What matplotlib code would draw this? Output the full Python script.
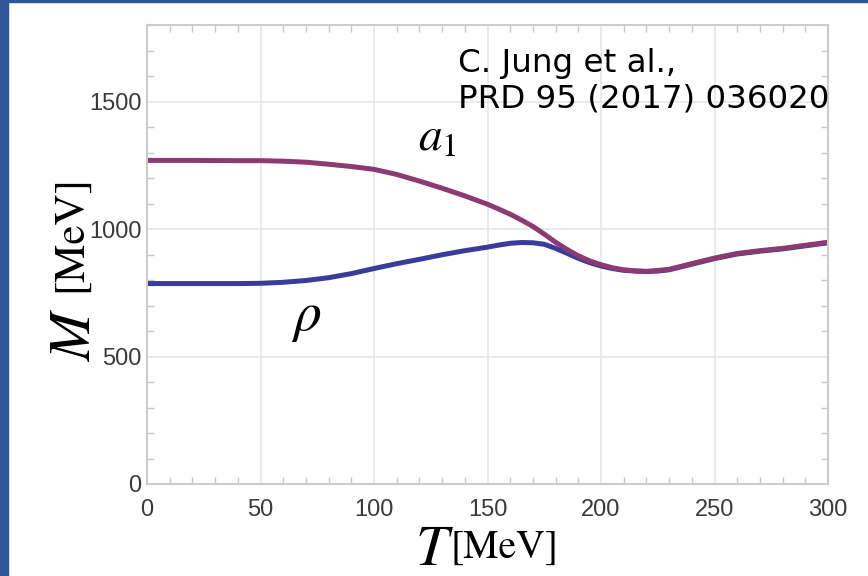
import matplotlib.pyplot as plt
from matplotlib.patches import Rectangle
from matplotlib.ticker import MultipleLocator

plt.rcParams['mathtext.fontset'] = 'stix'

# masses (MeV)
temps = [0, 20, 40, 50, 60, 70, 80, 90, 100, 110, 120, 130, 140, 150, 155, 160,
         165, 170, 175, 180, 185, 190, 195, 200, 205, 210, 215, 220, 225, 230,
         240, 250, 260, 270, 280, 290, 300]
a1_mass = [1269, 1269, 1268, 1268, 1266, 1262, 1254, 1245, 1234, 1214, 1188, 1160,
           1130, 1097, 1078, 1058, 1035, 1010, 980, 948, 920, 895, 875, 860, 848,
           840, 836, 834, 837, 842, 864, 886, 904, 915, 924, 936, 948]
rho_mass = [786, 786, 786, 787, 791, 798, 809, 825, 845, 864, 881, 899, 915, 929,
            937, 944, 947, 946, 940, 924, 905, 885, 868, 855, 845, 838, 835, 833,
            835, 840, 862, 884, 902, 913, 922, 934, 946]

fig = plt.figure(figsize=(8.68, 5.76), dpi=100)
fig.patches.append(Rectangle((0, 0), 8 / 868, 1, transform=fig.transFigure,
                             color='#2E5597', zorder=0))
fig.patches.append(Rectangle((0, 1 - 2 / 576), 1, 2 / 576, transform=fig.transFigure,
                             color='#2E5597', zorder=0))

ax = fig.add_axes([147 / 868, 1 - 484 / 576, 681 / 868, 459 / 576])
ax.plot(temps, rho_mass, color='#3B3B9C', lw=3.6, solid_capstyle='butt')
ax.plot(temps, a1_mass, color='#8C3A72', lw=3.6, solid_capstyle='butt')

ax.set_xlim(0, 300)
ax.set_ylim(0, 1800)
ax.set_xticks([0, 50, 100, 150, 200, 250, 300])
ax.set_yticks([0, 500, 1000, 1500])
ax.xaxis.set_minor_locator(MultipleLocator(10))
ax.yaxis.set_minor_locator(MultipleLocator(100))
ax.grid(True, which='major', color='#e6e6e6', lw=1.2)
ax.tick_params(which='both', direction='in', top=True, right=True, color='#c8c8c8')
ax.tick_params(which='major', length=0)
ax.tick_params(which='minor', length=5, width=1)
ax.tick_params(axis='x', pad=11)
ax.tick_params(axis='y', pad=4)
for lab in ax.get_xticklabels() + ax.get_yticklabels():
    lab.set_family('Liberation Sans')
    lab.set_fontsize(17)
    lab.set_color('#3a3a3a')
for sp in ax.spines.values():
    sp.set_color('#cccccc')
    sp.set_linewidth(1.5)

ax.text(70, 654, r'$\rho$', fontsize=40, ha='center', va='center')
ax.text(128, 1356, r'$a_1$', fontsize=34, ha='center', va='center')

# axis labels in serif, symbol bigger than unit
fig.text(415 / 868, 1 - 565 / 576, r'$T$', fontsize=42, ha='left', va='baseline')
fig.text(451 / 868, 1 - 558 / 576, '[MeV]', fontsize=28.5, family='STIXGeneral',
         ha='left', va='baseline')
fig.text(90 / 868, 1 - 362 / 576, r'$M$', fontsize=42, rotation=90,
         rotation_mode='anchor', ha='left', va='baseline')
fig.text(81 / 868, 1 - 292 / 576, '[MeV]', fontsize=31, family='STIXGeneral',
         rotation=90, rotation_mode='anchor', ha='left', va='baseline')

fig.text(458 / 868, 1 - 72 / 576, 'C. Jung et al.,', fontsize=23.4,
         family='DejaVu Sans', va='baseline')
fig.text(458 / 868, 1 - 107 / 576, 'PRD 95 (2017) 036020', fontsize=23.4,
         family='DejaVu Sans', va='baseline')

fig.savefig('out.png', dpi=100)
